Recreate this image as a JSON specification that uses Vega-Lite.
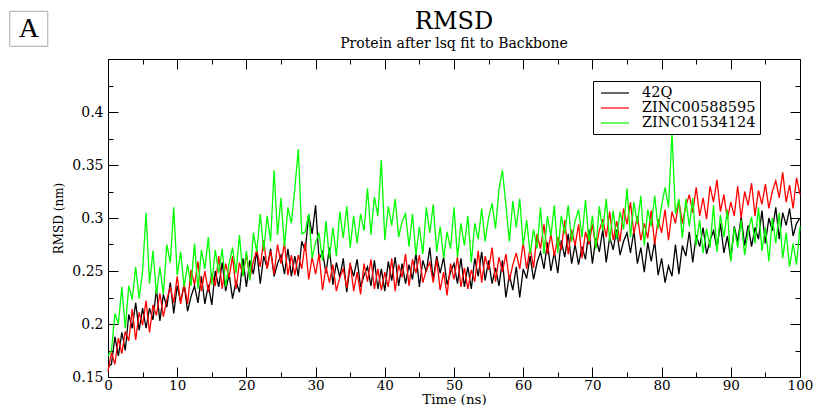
{
  "$schema": "https://vega.github.io/schema/vega-lite/v6.json",
  "width": 692,
  "height": 318,
  "autosize": {"type": "none"},
  "padding": {"left": 108, "top": 59, "right": 16, "bottom": 28},
  "background": "white",
  "title": {
    "text": "RMSD",
    "subtitle": "Protein after lsq fit to Backbone",
    "frame": "group",
    "font": "DejaVu Serif",
    "fontSize": 24,
    "fontWeight": "normal",
    "color": "#000000",
    "subtitleFont": "DejaVu Serif",
    "subtitleFontSize": 14,
    "subtitleColor": "#000000",
    "subtitlePadding": 3,
    "anchor": "middle",
    "offset": -40
  },
  "config": {
    "view": {"stroke": "#000000", "strokeWidth": 1},
    "axis": {
      "labelFont": "DejaVu Serif",
      "titleFont": "DejaVu Serif",
      "labelColor": "#000000",
      "titleColor": "#000000",
      "domainColor": "#000000",
      "tickColor": "#000000",
      "grid": false,
      "titleFontWeight": "normal"
    }
  },
  "resolve": {"axis": {"x": "independent", "y": "independent"}},
  "layer": [
    {
      "data": {"values": [{}]},
      "mark": {"type": "rect", "fill": "white", "stroke": "#aaaaaa", "strokeWidth": 1},
      "encoding": {
        "x": {"datum": -14.2, "type": "quantitative", "scale": {"domain": [0, 100]}, "axis": null},
        "x2": {"datum": -8.7},
        "y": {"datum": 0.495, "type": "quantitative", "scale": {"domain": [0.15, 0.45]}, "axis": null},
        "y2": {"datum": 0.462}
      }
    },
    {
      "data": {"values": [{}]},
      "mark": {"type": "text", "text": "A", "font": "Liberation Serif", "fontSize": 28, "color": "#000000", "align": "center", "baseline": "middle"},
      "encoding": {
        "x": {"datum": -11.45, "type": "quantitative", "scale": {"domain": [0, 100]}, "axis": null},
        "y": {"datum": 0.4785, "type": "quantitative", "scale": {"domain": [0.15, 0.45]}, "axis": null}
      }
    },
    {
      "data": {"values": [
        {"t":0,"42Q":0.160,"ZINC00588595":0.155,"ZINC01534124":0.170},
        {"t":0.5,"42Q":0.162,"ZINC00588595":0.173,"ZINC01534124":0.175},
        {"t":1,"42Q":0.188,"ZINC00588595":0.162,"ZINC01534124":0.210},
        {"t":1.5,"42Q":0.170,"ZINC00588595":0.187,"ZINC01534124":0.200},
        {"t":2,"42Q":0.192,"ZINC00588595":0.172,"ZINC01534124":0.235},
        {"t":2.5,"42Q":0.175,"ZINC00588595":0.193,"ZINC01534124":0.196},
        {"t":3,"42Q":0.209,"ZINC00588595":0.184,"ZINC01534124":0.236},
        {"t":3.5,"42Q":0.196,"ZINC00588595":0.214,"ZINC01534124":0.223},
        {"t":4,"42Q":0.220,"ZINC00588595":0.185,"ZINC01534124":0.254},
        {"t":4.5,"42Q":0.194,"ZINC00588595":0.211,"ZINC01534124":0.224},
        {"t":5,"42Q":0.215,"ZINC00588595":0.199,"ZINC01534124":0.250},
        {"t":5.5,"42Q":0.196,"ZINC00588595":0.222,"ZINC01534124":0.305},
        {"t":6,"42Q":0.215,"ZINC00588595":0.192,"ZINC01534124":0.238},
        {"t":6.5,"42Q":0.204,"ZINC00588595":0.218,"ZINC01534124":0.269},
        {"t":7,"42Q":0.233,"ZINC00588595":0.208,"ZINC01534124":0.228},
        {"t":7.5,"42Q":0.203,"ZINC00588595":0.229,"ZINC01534124":0.254},
        {"t":8,"42Q":0.228,"ZINC00588595":0.207,"ZINC01534124":0.228},
        {"t":8.5,"42Q":0.216,"ZINC00588595":0.223,"ZINC01534124":0.275},
        {"t":9,"42Q":0.239,"ZINC00588595":0.235,"ZINC01534124":0.258},
        {"t":9.5,"42Q":0.210,"ZINC00588595":0.220,"ZINC01534124":0.310},
        {"t":10,"42Q":0.236,"ZINC00588595":0.245,"ZINC01534124":0.246},
        {"t":10.5,"42Q":0.221,"ZINC00588595":0.219,"ZINC01534124":0.268},
        {"t":11,"42Q":0.237,"ZINC00588595":0.238,"ZINC01534124":0.235},
        {"t":11.5,"42Q":0.212,"ZINC00588595":0.219,"ZINC01534124":0.256},
        {"t":12,"42Q":0.226,"ZINC00588595":0.251,"ZINC01534124":0.236},
        {"t":12.5,"42Q":0.236,"ZINC00588595":0.237,"ZINC01534124":0.276},
        {"t":13,"42Q":0.220,"ZINC00588595":0.259,"ZINC01534124":0.233},
        {"t":13.5,"42Q":0.245,"ZINC00588595":0.231,"ZINC01534124":0.270},
        {"t":14,"42Q":0.219,"ZINC00588595":0.250,"ZINC01534124":0.252},
        {"t":14.5,"42Q":0.237,"ZINC00588595":0.230,"ZINC01534124":0.282},
        {"t":15,"42Q":0.218,"ZINC00588595":0.248,"ZINC01534124":0.237},
        {"t":15.5,"42Q":0.250,"ZINC00588595":0.236,"ZINC01534124":0.270},
        {"t":16,"42Q":0.235,"ZINC00588595":0.264,"ZINC01534124":0.248},
        {"t":16.5,"42Q":0.258,"ZINC00588595":0.233,"ZINC01534124":0.271},
        {"t":17,"42Q":0.231,"ZINC00588595":0.257,"ZINC01534124":0.235},
        {"t":17.5,"42Q":0.247,"ZINC00588595":0.244,"ZINC01534124":0.257},
        {"t":18,"42Q":0.224,"ZINC00588595":0.264,"ZINC01534124":0.272},
        {"t":18.5,"42Q":0.240,"ZINC00588595":0.233,"ZINC01534124":0.248},
        {"t":19,"42Q":0.230,"ZINC00588595":0.258,"ZINC01534124":0.284},
        {"t":19.5,"42Q":0.262,"ZINC00588595":0.246,"ZINC01534124":0.245},
        {"t":20,"42Q":0.235,"ZINC00588595":0.266,"ZINC01534124":0.269},
        {"t":20.5,"42Q":0.260,"ZINC00588595":0.243,"ZINC01534124":0.241},
        {"t":21,"42Q":0.247,"ZINC00588595":0.259,"ZINC01534124":0.286},
        {"t":21.5,"42Q":0.269,"ZINC00588595":0.270,"ZINC01534124":0.268},
        {"t":22,"42Q":0.238,"ZINC00588595":0.254,"ZINC01534124":0.304},
        {"t":22.5,"42Q":0.264,"ZINC00588595":0.279,"ZINC01534124":0.269},
        {"t":23,"42Q":0.253,"ZINC00588595":0.252,"ZINC01534124":0.302},
        {"t":23.5,"42Q":0.271,"ZINC00588595":0.269,"ZINC01534124":0.278},
        {"t":24,"42Q":0.245,"ZINC00588595":0.247,"ZINC01534124":0.345},
        {"t":24.5,"42Q":0.257,"ZINC00588595":0.275,"ZINC01534124":0.284},
        {"t":25,"42Q":0.265,"ZINC00588595":0.257,"ZINC01534124":0.319},
        {"t":25.5,"42Q":0.247,"ZINC00588595":0.276,"ZINC01534124":0.273},
        {"t":26,"42Q":0.271,"ZINC00588595":0.246,"ZINC01534124":0.310},
        {"t":26.5,"42Q":0.245,"ZINC00588595":0.265,"ZINC01534124":0.295},
        {"t":27,"42Q":0.264,"ZINC00588595":0.246,"ZINC01534124":0.328},
        {"t":27.5,"42Q":0.245,"ZINC00588595":0.265,"ZINC01534124":0.365},
        {"t":28,"42Q":0.278,"ZINC00588595":0.252,"ZINC01534124":0.285},
        {"t":28.5,"42Q":0.269,"ZINC00588595":0.277,"ZINC01534124":0.287},
        {"t":29,"42Q":0.303,"ZINC00588595":0.242,"ZINC01534124":0.304},
        {"t":29.5,"42Q":0.285,"ZINC00588595":0.263,"ZINC01534124":0.262},
        {"t":30,"42Q":0.312,"ZINC00588595":0.247,"ZINC01534124":0.277},
        {"t":30.5,"42Q":0.261,"ZINC00588595":0.266,"ZINC01534124":0.286},
        {"t":31,"42Q":0.268,"ZINC00588595":0.232,"ZINC01534124":0.260},
        {"t":31.5,"42Q":0.248,"ZINC00588595":0.254,"ZINC01534124":0.297},
        {"t":32,"42Q":0.272,"ZINC00588595":0.239,"ZINC01534124":0.262},
        {"t":32.5,"42Q":0.237,"ZINC00588595":0.256,"ZINC01534124":0.291},
        {"t":33,"42Q":0.258,"ZINC00588595":0.231,"ZINC01534124":0.264},
        {"t":33.5,"42Q":0.244,"ZINC00588595":0.244,"ZINC01534124":0.306},
        {"t":34,"42Q":0.262,"ZINC00588595":0.252,"ZINC01534124":0.281},
        {"t":34.5,"42Q":0.230,"ZINC00588595":0.234,"ZINC01534124":0.311},
        {"t":35,"42Q":0.256,"ZINC00588595":0.258,"ZINC01534124":0.272},
        {"t":35.5,"42Q":0.245,"ZINC00588595":0.231,"ZINC01534124":0.302},
        {"t":36,"42Q":0.261,"ZINC00588595":0.249,"ZINC01534124":0.276},
        {"t":36.5,"42Q":0.235,"ZINC00588595":0.228,"ZINC01534124":0.304},
        {"t":37,"42Q":0.246,"ZINC00588595":0.257,"ZINC01534124":0.288},
        {"t":37.5,"42Q":0.254,"ZINC00588595":0.240,"ZINC01534124":0.328},
        {"t":38,"42Q":0.236,"ZINC00588595":0.261,"ZINC01534124":0.284},
        {"t":38.5,"42Q":0.260,"ZINC00588595":0.233,"ZINC01534124":0.320},
        {"t":39,"42Q":0.233,"ZINC00588595":0.252,"ZINC01534124":0.302},
        {"t":39.5,"42Q":0.252,"ZINC00588595":0.232,"ZINC01534124":0.355},
        {"t":40,"42Q":0.231,"ZINC00588595":0.249,"ZINC01534124":0.279},
        {"t":40.5,"42Q":0.259,"ZINC00588595":0.235,"ZINC01534124":0.311},
        {"t":41,"42Q":0.241,"ZINC00588595":0.262,"ZINC01534124":0.293},
        {"t":41.5,"42Q":0.263,"ZINC00588595":0.231,"ZINC01534124":0.318},
        {"t":42,"42Q":0.236,"ZINC00588595":0.256,"ZINC01534124":0.282},
        {"t":42.5,"42Q":0.257,"ZINC00588595":0.244,"ZINC01534124":0.297},
        {"t":43,"42Q":0.238,"ZINC00588595":0.266,"ZINC01534124":0.304},
        {"t":43.5,"42Q":0.256,"ZINC00588595":0.236,"ZINC01534124":0.273},
        {"t":44,"42Q":0.242,"ZINC00588595":0.261,"ZINC01534124":0.304},
        {"t":44.5,"42Q":0.267,"ZINC00588595":0.248,"ZINC01534124":0.265},
        {"t":45,"42Q":0.235,"ZINC00588595":0.265,"ZINC01534124":0.292},
        {"t":45.5,"42Q":0.260,"ZINC00588595":0.239,"ZINC01534124":0.266},
        {"t":46,"42Q":0.249,"ZINC00588595":0.251,"ZINC01534124":0.310},
        {"t":46.5,"42Q":0.272,"ZINC00588595":0.258,"ZINC01534124":0.286},
        {"t":47,"42Q":0.242,"ZINC00588595":0.239,"ZINC01534124":0.313},
        {"t":47.5,"42Q":0.264,"ZINC00588595":0.261,"ZINC01534124":0.268},
        {"t":48,"42Q":0.248,"ZINC00588595":0.232,"ZINC01534124":0.292},
        {"t":48.5,"42Q":0.263,"ZINC00588595":0.249,"ZINC01534124":0.262},
        {"t":49,"42Q":0.237,"ZINC00588595":0.227,"ZINC01534124":0.287},
        {"t":49.5,"42Q":0.249,"ZINC00588595":0.257,"ZINC01534124":0.271},
        {"t":50,"42Q":0.257,"ZINC00588595":0.242,"ZINC01534124":0.310},
        {"t":50.5,"42Q":0.238,"ZINC00588595":0.263,"ZINC01534124":0.263},
        {"t":51,"42Q":0.262,"ZINC00588595":0.235,"ZINC01534124":0.295},
        {"t":51.5,"42Q":0.235,"ZINC00588595":0.253,"ZINC01534124":0.274},
        {"t":52,"42Q":0.254,"ZINC00588595":0.233,"ZINC01534124":0.302},
        {"t":52.5,"42Q":0.233,"ZINC00588595":0.251,"ZINC01534124":0.258},
        {"t":53,"42Q":0.262,"ZINC00588595":0.240,"ZINC01534124":0.295},
        {"t":53.5,"42Q":0.245,"ZINC00588595":0.269,"ZINC01534124":0.280},
        {"t":54,"42Q":0.268,"ZINC00588595":0.239,"ZINC01534124":0.309},
        {"t":54.5,"42Q":0.241,"ZINC00588595":0.264,"ZINC01534124":0.278},
        {"t":55,"42Q":0.260,"ZINC00588595":0.251,"ZINC01534124":0.300},
        {"t":55.5,"42Q":0.238,"ZINC00588595":0.272,"ZINC01534124":0.314},
        {"t":56,"42Q":0.253,"ZINC00588595":0.240,"ZINC01534124":0.290},
        {"t":56.5,"42Q":0.236,"ZINC00588595":0.263,"ZINC01534124":0.327},
        {"t":57,"42Q":0.260,"ZINC00588595":0.249,"ZINC01534124":0.345},
        {"t":57.5,"42Q":0.225,"ZINC00588595":0.266,"ZINC01534124":0.312},
        {"t":58,"42Q":0.246,"ZINC00588595":0.241,"ZINC01534124":0.278},
        {"t":58.5,"42Q":0.232,"ZINC00588595":0.256,"ZINC01534124":0.316},
        {"t":59,"42Q":0.254,"ZINC00588595":0.267,"ZINC01534124":0.291},
        {"t":59.5,"42Q":0.225,"ZINC00588595":0.252,"ZINC01534124":0.318},
        {"t":60,"42Q":0.252,"ZINC00588595":0.277,"ZINC01534124":0.274},
        {"t":60.5,"42Q":0.243,"ZINC00588595":0.252,"ZINC01534124":0.298},
        {"t":61,"42Q":0.264,"ZINC00588595":0.272,"ZINC01534124":0.266},
        {"t":61.5,"42Q":0.242,"ZINC00588595":0.253,"ZINC01534124":0.289},
        {"t":62,"42Q":0.258,"ZINC00588595":0.285,"ZINC01534124":0.271},
        {"t":62.5,"42Q":0.268,"ZINC00588595":0.271,"ZINC01534124":0.310},
        {"t":63,"42Q":0.252,"ZINC00588595":0.294,"ZINC01534124":0.266},
        {"t":63.5,"42Q":0.277,"ZINC00588595":0.266,"ZINC01534124":0.302},
        {"t":64,"42Q":0.250,"ZINC00588595":0.285,"ZINC01534124":0.283},
        {"t":64.5,"42Q":0.268,"ZINC00588595":0.264,"ZINC01534124":0.312},
        {"t":65,"42Q":0.248,"ZINC00588595":0.282,"ZINC01534124":0.267},
        {"t":65.5,"42Q":0.279,"ZINC00588595":0.270,"ZINC01534124":0.302},
        {"t":66,"42Q":0.263,"ZINC00588595":0.298,"ZINC01534124":0.285},
        {"t":66.5,"42Q":0.285,"ZINC00588595":0.266,"ZINC01534124":0.312},
        {"t":67,"42Q":0.257,"ZINC00588595":0.289,"ZINC01534124":0.278},
        {"t":67.5,"42Q":0.275,"ZINC00588595":0.274,"ZINC01534124":0.297},
        {"t":68,"42Q":0.256,"ZINC00588595":0.294,"ZINC01534124":0.308},
        {"t":68.5,"42Q":0.273,"ZINC00588595":0.262,"ZINC01534124":0.282},
        {"t":69,"42Q":0.261,"ZINC00588595":0.287,"ZINC01534124":0.317},
        {"t":69.5,"42Q":0.289,"ZINC00588595":0.275,"ZINC01534124":0.278},
        {"t":70,"42Q":0.257,"ZINC00588595":0.294,"ZINC01534124":0.302},
        {"t":70.5,"42Q":0.281,"ZINC00588595":0.272,"ZINC01534124":0.271},
        {"t":71,"42Q":0.268,"ZINC00588595":0.288,"ZINC01534124":0.311},
        {"t":71.5,"42Q":0.289,"ZINC00588595":0.299,"ZINC01534124":0.288},
        {"t":72,"42Q":0.258,"ZINC00588595":0.282,"ZINC01534124":0.318},
        {"t":72.5,"42Q":0.282,"ZINC00588595":0.306,"ZINC01534124":0.278},
        {"t":73,"42Q":0.270,"ZINC00588595":0.279,"ZINC01534124":0.307},
        {"t":73.5,"42Q":0.289,"ZINC00588595":0.297,"ZINC01534124":0.280},
        {"t":74,"42Q":0.265,"ZINC00588595":0.278,"ZINC01534124":0.306},
        {"t":74.5,"42Q":0.278,"ZINC00588595":0.309,"ZINC01534124":0.289},
        {"t":75,"42Q":0.286,"ZINC00588595":0.294,"ZINC01534124":0.328},
        {"t":75.5,"42Q":0.267,"ZINC00588595":0.315,"ZINC01534124":0.282},
        {"t":76,"42Q":0.288,"ZINC00588595":0.285,"ZINC01534124":0.315},
        {"t":76.5,"42Q":0.257,"ZINC00588595":0.302,"ZINC01534124":0.294},
        {"t":77,"42Q":0.272,"ZINC00588595":0.279,"ZINC01534124":0.321},
        {"t":77.5,"42Q":0.249,"ZINC00588595":0.295,"ZINC01534124":0.274},
        {"t":78,"42Q":0.277,"ZINC00588595":0.281,"ZINC01534124":0.308},
        {"t":78.5,"42Q":0.259,"ZINC00588595":0.307,"ZINC01534124":0.292},
        {"t":79,"42Q":0.278,"ZINC00588595":0.275,"ZINC01534124":0.321},
        {"t":79.5,"42Q":0.246,"ZINC00588595":0.299,"ZINC01534124":0.290},
        {"t":80,"42Q":0.262,"ZINC00588595":0.286,"ZINC01534124":0.312},
        {"t":80.5,"42Q":0.239,"ZINC00588595":0.308,"ZINC01534124":0.329},
        {"t":81,"42Q":0.255,"ZINC00588595":0.279,"ZINC01534124":0.310},
        {"t":81.5,"42Q":0.245,"ZINC00588595":0.306,"ZINC01534124":0.380},
        {"t":82,"42Q":0.275,"ZINC00588595":0.295,"ZINC01534124":0.304},
        {"t":82.5,"42Q":0.247,"ZINC00588595":0.316,"ZINC01534124":0.318},
        {"t":83,"42Q":0.274,"ZINC00588595":0.295,"ZINC01534124":0.281},
        {"t":83.5,"42Q":0.264,"ZINC00588595":0.311,"ZINC01534124":0.318},
        {"t":84,"42Q":0.287,"ZINC00588595":0.322,"ZINC01534124":0.292},
        {"t":84.5,"42Q":0.258,"ZINC00588595":0.305,"ZINC01534124":0.319},
        {"t":85,"42Q":0.284,"ZINC00588595":0.329,"ZINC01534124":0.274},
        {"t":85.5,"42Q":0.273,"ZINC00588595":0.302,"ZINC01534124":0.298},
        {"t":86,"42Q":0.291,"ZINC00588595":0.319,"ZINC01534124":0.267},
        {"t":86.5,"42Q":0.266,"ZINC00588595":0.299,"ZINC01534124":0.290},
        {"t":87,"42Q":0.279,"ZINC00588595":0.330,"ZINC01534124":0.272},
        {"t":87.5,"42Q":0.288,"ZINC00588595":0.315,"ZINC01534124":0.312},
        {"t":88,"42Q":0.271,"ZINC00588595":0.336,"ZINC01534124":0.268},
        {"t":88.5,"42Q":0.295,"ZINC00588595":0.306,"ZINC01534124":0.303},
        {"t":89,"42Q":0.267,"ZINC00588595":0.322,"ZINC01534124":0.282},
        {"t":89.5,"42Q":0.283,"ZINC00588595":0.299,"ZINC01534124":0.308},
        {"t":90,"42Q":0.261,"ZINC00588595":0.315,"ZINC01534124":0.259},
        {"t":90.5,"42Q":0.292,"ZINC00588595":0.302,"ZINC01534124":0.291},
        {"t":91,"42Q":0.278,"ZINC00588595":0.330,"ZINC01534124":0.272},
        {"t":91.5,"42Q":0.301,"ZINC00588595":0.300,"ZINC01534124":0.298},
        {"t":92,"42Q":0.274,"ZINC00588595":0.325,"ZINC01534124":0.265},
        {"t":92.5,"42Q":0.293,"ZINC00588595":0.312,"ZINC01534124":0.287},
        {"t":93,"42Q":0.273,"ZINC00588595":0.333,"ZINC01534124":0.301},
        {"t":93.5,"42Q":0.291,"ZINC00588595":0.302,"ZINC01534124":0.276},
        {"t":94,"42Q":0.280,"ZINC00588595":0.326,"ZINC01534124":0.310},
        {"t":94.5,"42Q":0.307,"ZINC00588595":0.313,"ZINC01534124":0.269},
        {"t":95,"42Q":0.276,"ZINC00588595":0.332,"ZINC01534124":0.291},
        {"t":95.5,"42Q":0.300,"ZINC00588595":0.309,"ZINC01534124":0.259},
        {"t":96,"42Q":0.288,"ZINC00588595":0.325,"ZINC01534124":0.300},
        {"t":96.5,"42Q":0.310,"ZINC00588595":0.335,"ZINC01534124":0.276},
        {"t":97,"42Q":0.280,"ZINC00588595":0.319,"ZINC01534124":0.305},
        {"t":97.5,"42Q":0.305,"ZINC00588595":0.343,"ZINC01534124":0.262},
        {"t":98,"42Q":0.293,"ZINC00588595":0.315,"ZINC01534124":0.286},
        {"t":98.5,"42Q":0.309,"ZINC00588595":0.331,"ZINC01534124":0.254},
        {"t":99,"42Q":0.283,"ZINC00588595":0.309,"ZINC01534124":0.276},
        {"t":99.5,"42Q":0.295,"ZINC00588595":0.338,"ZINC01534124":0.256},
        {"t":100,"42Q":0.300,"ZINC00588595":0.322,"ZINC01534124":0.292}
      ]},
      "transform": [{"fold": ["42Q", "ZINC00588595", "ZINC01534124"], "as": ["series", "rmsd"]}],
      "mark": {"type": "line", "strokeWidth": 1.3, "interpolate": "linear"},
      "encoding": {
        "x": {
          "field": "t", "type": "quantitative",
          "scale": {"domain": [0, 100]},
          "axis": {
            "orient": "bottom",
            "values": [0,5,10,15,20,25,30,35,40,45,50,55,60,65,70,75,80,85,90,95,100],
            "tickSize": {"condition": {"test": "datum.value % 10 === 0", "value": -10}, "value": -5},
            "labelExpr": "datum.value % 10 === 0 ? datum.label : ''",
            "format": "d",
            "labelFontSize": 13.5,
            "labelPadding": 11,
            "labelFlush": false,
            "labelOverlap": false,
            "title": "Time (ns)",
            "titleFontSize": 13.5,
            "titlePadding": -4
          }
        },
        "y": {
          "field": "rmsd", "type": "quantitative",
          "scale": {"domain": [0.15, 0.45]},
          "axis": {
            "orient": "left",
            "values": [0.15,0.175,0.2,0.225,0.25,0.275,0.3,0.325,0.35,0.375,0.4,0.425,0.45],
            "tickSize": {"condition": {"test": "round(datum.value*40) % 2 === 0", "value": -10}, "value": -5},
            "labelExpr": "round(datum.value*40) % 2 === 0 && datum.value < 0.44 ? datum.label : ''",
            "format": "~g",
            "labelFontSize": 14,
            "labelPadding": 15,
            "labelFlush": false,
            "labelOverlap": false,
            "title": "RMSD (nm)",
            "titleFontSize": 12,
            "titlePadding": 6
          }
        },
        "color": {
          "field": "series", "type": "nominal",
          "scale": {"domain": ["42Q", "ZINC00588595", "ZINC01534124"], "range": ["#000000", "#ff0000", "#00ff00"]},
          "legend": {
            "title": null,
            "orient": "none",
            "legendX": 485,
            "legendY": 22,
            "strokeColor": "#000000",
            "fillColor": "#ffffff",
            "padding": 4,
            "symbolType": "M-2,0H2",
            "symbolSize": 196,
            "symbolStrokeWidth": 1.2,
            "symbolOffset": 10,
            "labelFont": "DejaVu Serif",
            "labelFontSize": 14.5,
            "labelColor": "#000000",
            "labelOffset": 19,
            "rowPadding": -2
          }
        }
      }
    },
    {
      "data": {"values": [{}]},
      "mark": {"type": "point", "opacity": 0},
      "encoding": {
        "x": {
          "datum": 50, "type": "quantitative",
          "scale": {"domain": [0, 100]},
          "axis": {
            "orient": "top",
            "values": [0,5,10,15,20,25,30,35,40,45,50,55,60,65,70,75,80,85,90,95,100],
            "tickSize": {"condition": {"test": "datum.value % 10 === 0", "value": -10}, "value": -5},
            "labels": false,
            "domain": false,
            "title": null
          }
        },
        "y": {
          "datum": 0.3, "type": "quantitative",
          "scale": {"domain": [0.15, 0.45]},
          "axis": {
            "orient": "right",
            "values": [0.15,0.175,0.2,0.225,0.25,0.275,0.3,0.325,0.35,0.375,0.4,0.425,0.45],
            "tickSize": {"condition": {"test": "round(datum.value*40) % 2 === 0", "value": -10}, "value": -5},
            "labels": false,
            "domain": false,
            "title": null
          }
        }
      }
    }
  ]
}
